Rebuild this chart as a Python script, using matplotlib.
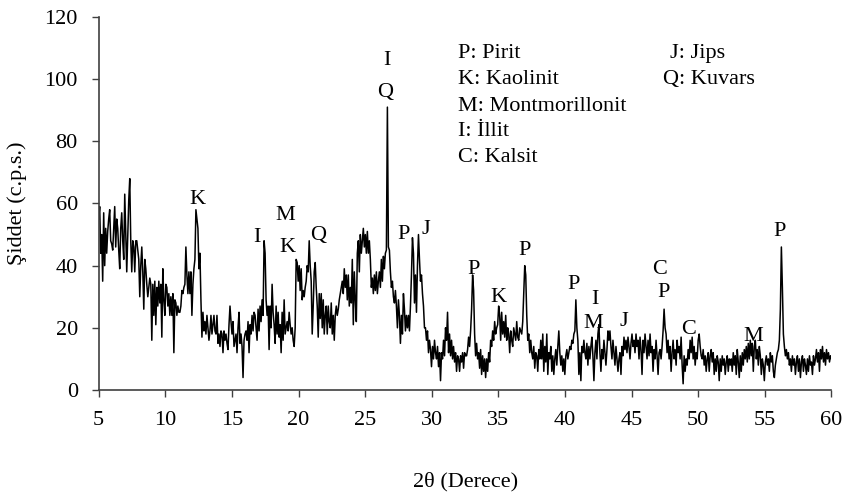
import numpy as np
import matplotlib
matplotlib.use("Agg")
import matplotlib.pyplot as plt

plt.rcParams['font.family'] = ['Liberation Serif', 'DejaVu Serif']

# XRD intensity (c.p.s.), step scan 5-60 deg 2theta
intensity = [
    # 5 - 9.6
    55, 59, 44, 50, 35, 57, 40, 52, 44, 51, 55, 58, 48, 47, 45, 52, 59, 46, 55, 52,
    45, 39, 52, 57, 48, 42, 63, 50, 38, 50, 61, 68, 48, 38, 48, 46, 38, 48, 48, 45,
    42, 30, 40, 46, 38, 26, 42, 39, 34, 30, 33, 36, 34, 16, 34, 24, 35, 21, 33, 27, 35,
    # 9.6 - 16.7
    28, 34, 17, 39, 29, 24, 34, 33, 27, 31, 24, 30, 24, 31, 12, 29, 28, 24, 27, 25,
    25, 27, 32, 31, 33, 34, 46, 37, 31, 38, 31, 38, 24, 34, 39, 42, 58, 55, 52, 39,
    44, 29, 17, 25, 19, 22, 18, 24, 20, 16, 19, 24, 18, 21, 24, 19, 18, 24, 15, 18,
    14, 19, 18, 12, 19, 16, 18, 15, 13, 21, 27, 22, 18, 22, 14, 16, 18, 12, 20, 25,
    15, 18, 14, 4, 16, 18, 19, 16, 22, 12, 21, 18, 24, 19, 25,
    # 16.8 - 23.9
    24, 20, 16, 26, 19, 27, 22, 29, 24, 48, 44, 29, 24, 27, 13, 27, 20, 34, 25, 21,
    15, 27, 18, 25, 17, 21, 12, 25, 16, 29, 18, 20, 22, 19, 25, 21, 18, 20, 16, 14,
    20, 42, 41, 35, 40, 32, 39, 29, 32, 30, 33, 35, 40, 38, 48, 40, 35, 18, 27, 38,
    41, 33, 27, 17, 31, 23, 31, 20, 29, 18, 24, 27, 18, 27, 22, 20, 28, 18, 24, 16,
    24, 27, 24, 26, 29, 31, 33, 35, 31, 39, 33, 37, 29, 37, 27,
    # 23.9 - 31.0
    33, 28, 42, 21, 38, 29, 22, 44, 48, 38, 50, 44, 48, 52, 46, 50, 44, 51, 44, 48,
    42, 33, 36, 31, 37, 32, 38, 31, 35, 38, 33, 42, 35, 43, 39, 44, 45, 91, 46, 45,
    38, 33, 35, 30, 28, 32, 27, 20, 29, 24, 15, 24, 18, 31, 26, 19, 24, 20, 24, 19,
    27, 37, 49, 44, 28, 37, 25, 40, 50, 42, 35, 37, 31, 27, 20, 20, 16, 19, 12, 16,
    13, 7.5, 14, 10, 16, 12, 10, 14, 7.5, 12, 3, 12, 10, 16, 11,
    # 31.1 - 38.1
    20, 16, 25, 12, 18, 11, 16, 10, 14, 9, 12, 6, 11, 10, 6, 11, 9, 12, 7, 12,
    11, 11, 13, 17, 14, 19, 26, 37, 32, 18, 11, 15, 10, 12, 7, 13, 5, 11, 6, 10,
    4, 10, 6, 12, 9, 16, 14, 19, 16, 22, 18, 20, 21, 27, 24, 16, 25, 18, 22, 17,
    24, 16, 20, 18, 12, 19, 16, 14, 20, 18, 16, 22, 17, 16, 20, 19, 18, 22, 31, 40,
    37, 24, 16, 18, 12, 16, 12, 10, 14, 7, 12, 11, 6, 13, 10,
    # 38.2 - 45.3
    16, 10, 18, 6, 14, 9, 18, 5, 12, 10, 14, 6, 11, 5, 10, 13, 8, 14, 19, 12,
    8, 11, 6, 10, 5, 11, 13, 10, 12, 14, 13, 16, 15, 18, 19, 29, 20, 16, 5, 12,
    3, 14, 12, 16, 12, 10, 15, 8, 14, 10, 14, 17, 11, 3, 12, 16, 10, 18, 21, 12,
    6, 13, 10, 16, 12, 8, 13, 19, 16, 19, 14, 10, 16, 12, 8, 14, 10, 6, 10, 12,
    5, 14, 11, 17, 13, 16, 12, 17, 14, 10, 15, 18, 14, 16, 12,
    # 45.4 - 52.4
    18, 14, 16, 10, 17, 13, 5, 16, 12, 18, 14, 10, 16, 11, 18, 12, 14, 6, 13, 10,
    16, 11, 5, 12, 13, 10, 14, 19, 26, 20, 18, 12, 16, 10, 14, 6, 12, 16, 10, 13,
    8, 16, 12, 14, 10, 17, 8, 2, 11, 6, 10, 8, 13, 10, 16, 12, 17, 10, 14, 8,
    12, 10, 16, 18, 14, 11, 10, 13, 8, 11, 6, 10, 12, 6, 11, 13, 9, 12, 5, 10,
    6, 11, 9, 3, 10, 6, 11, 8, 10, 5, 9, 11, 6, 10, 8,
    # 52.5 - 60
    10, 6, 12, 8, 11, 5, 13, 9, 4, 11, 6, 12, 8, 13, 10, 14, 9, 15, 10, 16,
    11, 15, 6, 14, 16, 10, 13, 8, 14, 11, 5, 10, 8, 3, 9, 11, 8, 10, 6, 12,
    9, 11, 6, 4, 8, 10, 12, 13, 16, 26, 46, 33, 18, 14, 11, 13, 10, 12, 8, 10,
    6, 11, 8, 10, 5, 9, 11, 6, 10, 4, 9, 11, 6, 10, 8, 5, 10, 6, 11, 8,
    9, 5, 11, 8, 10, 13, 9, 12, 6, 13, 10, 14, 9, 12, 8, 13, 10, 12, 9, 11, 10,
]
two_theta = np.linspace(5, 60, len(intensity))

# Peak annotations (label, 2theta, intensity at text centre)
peak_labels = ['K', 'I', 'M', 'K', 'Q', 'I', 'Q', 'P', 'J', 'P', 'K', 'P',
               'P', 'I', 'M', 'J', 'C', 'P', 'C', 'M', 'P']
peak_x = [12.38, 16.86, 18.99, 19.16, 21.49, 26.62, 26.49, 27.87, 29.57, 33.12,
          35.0, 37.0, 40.63, 42.26, 42.13, 44.38, 47.12, 47.39, 49.26, 54.14, 56.1]
peak_y = [62.1, 49.9, 57.0, 46.7, 50.5, 106.8, 96.5, 50.9, 52.5, 39.7,
          30.6, 45.7, 34.8, 30.0, 22.5, 23.1, 39.7, 32.2, 20.4, 18.2, 52.0]

legend_left = ['P: Pirit', 'K: Kaolinit', 'M: Montmorillonit', 'I: İllit', 'C: Kalsit']
legend_left_y = [106.7, 98.3, 89.9, 81.6, 73.2]
legend_right = ['J: Jips', 'Q: Kuvars']
legend_right_x = [47.89, 47.39]
legend_right_y = [106.7, 98.3]
legend_left_x = 31.99

xticks = [5, 10, 15, 20, 25, 30, 35, 40, 45, 50, 55, 60]
yticks = [0, 20, 40, 60, 80, 100, 120]

FS = 16
fig = plt.figure(figsize=(8.47, 5.01), dpi=100)
ax = fig.add_axes([0.1165, 0.2216, 0.8652, 0.7445])
ax.plot(two_theta, intensity, color='black', lw=1.1)
ax.set_xlim(5, 60)
ax.set_ylim(0, 120)
ax.set_xticks(xticks)
ax.set_yticks(yticks)
for s in ['top', 'right']:
    ax.spines[s].set_visible(False)
for s in ['left', 'bottom']:
    ax.spines[s].set_color('#404040')
    ax.spines[s].set_linewidth(1.2)
ax.tick_params(direction='out', length=5, width=1.0, color='#404040',
               labelsize=FS, pad=10)

BASE = -2.4
for lab, x, y in zip(peak_labels, peak_x, peak_y):
    ax.text(x, y + BASE, lab, ha='center', va='baseline', fontsize=FS)
for lab, y in zip(legend_left, legend_left_y):
    ax.text(legend_left_x, y, lab, ha='left', va='baseline', fontsize=FS)
for lab, x, y in zip(legend_right, legend_right_x, legend_right_y):
    ax.text(x, y, lab, ha='left', va='baseline', fontsize=FS)

ax.set_xlabel('2θ (Derece)', fontsize=FS)
ax.xaxis.label.set_va('center')
ax.xaxis.set_label_coords(0.5, (390 - 482) / 373)
ax.set_ylabel('Şiddet (c.p.s.)', fontsize=FS)
ax.yaxis.label.set_va('center')
ax.yaxis.set_label_coords((17 - 99) / 732.5, 0.5)

fig.savefig('out.png', dpi=100)
